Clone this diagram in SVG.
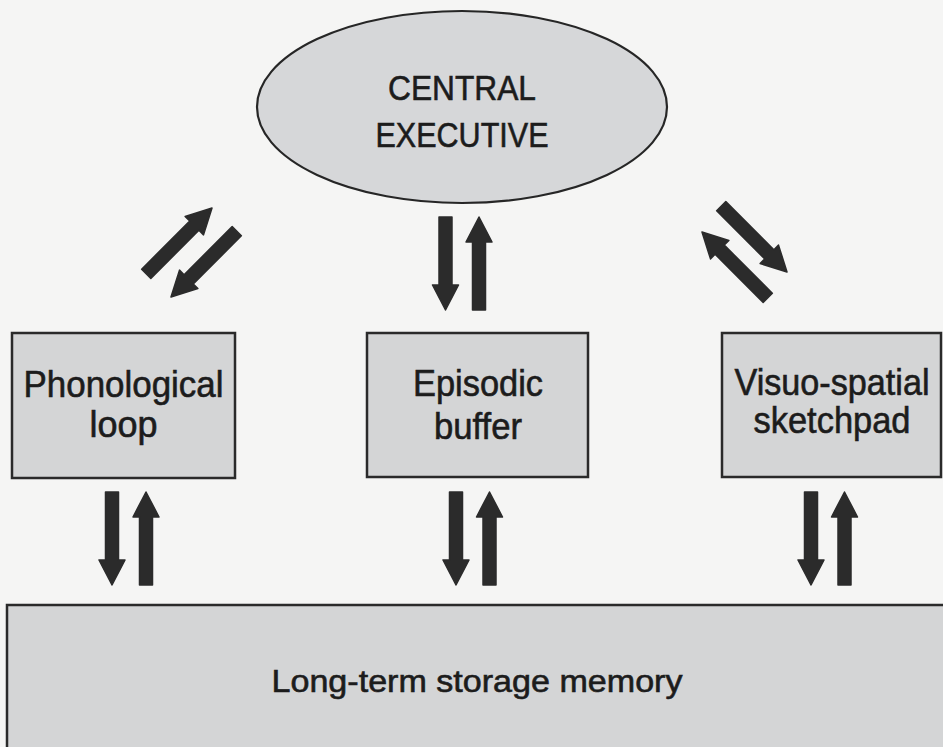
<svg xmlns="http://www.w3.org/2000/svg" xmlns:xlink="http://www.w3.org/1999/xlink" width="943" height="747" viewBox="0 0 943 747">
  <style>
    .bg { fill: #f5f5f4; }
    .box { fill: #d4d5d6; stroke: #2a2a2a; stroke-width: 2.5; }
    .oval { fill: #d6d7d9; stroke: #262626; stroke-width: 2.2; }
    .label { font-family: "Liberation Sans", Arial, sans-serif; fill: #1c1c1c; stroke: #1c1c1c; stroke-width: 0.6; text-anchor: middle; }
    .big { font-size: 36px; }
    .mid { font-size: 35px; }
    .low { font-size: 31px; }
    .arrow { fill: #2b2b2b; stroke: #2b2b2b; stroke-width: 1.5; stroke-linejoin: round; }
  </style>
  <defs>
    <!-- block arrow pointing up, tip at the origin -->
    <path id="arrowUp" d="M0,0 L13,25 L6.5,25 L6.5,93 L-6.5,93 L-6.5,25 L-13,25 Z"/>
  </defs>

  <rect class="bg" x="0" y="0" width="943" height="747"/>

  <g id="central-executive">
    <ellipse class="oval" cx="462" cy="107" rx="205" ry="96"/>
    <text class="label mid" x="462" y="100" textLength="148" lengthAdjust="spacingAndGlyphs">CENTRAL</text>
    <text class="label mid" x="462" y="147" textLength="173" lengthAdjust="spacingAndGlyphs">EXECUTIVE</text>
  </g>

  <g id="phonological-loop">
    <rect class="box" x="12" y="333" width="223" height="145"/>
    <text class="label big" x="123.5" y="397" textLength="200" lengthAdjust="spacingAndGlyphs">Phonological</text>
    <text class="label big" x="123.5" y="437">loop</text>
  </g>

  <g id="episodic-buffer">
    <rect class="box" x="367" y="333" width="221" height="144"/>
    <text class="label big" x="478" y="396" textLength="130" lengthAdjust="spacingAndGlyphs">Episodic</text>
    <text class="label big" x="478" y="439" textLength="88" lengthAdjust="spacingAndGlyphs">buffer</text>
  </g>

  <g id="visuo-spatial-sketchpad">
    <rect class="box" x="722" y="333" width="219" height="144"/>
    <text class="label big" x="832" y="395" textLength="195" lengthAdjust="spacingAndGlyphs">Visuo-spatial</text>
    <text class="label big" x="832" y="433" textLength="157" lengthAdjust="spacingAndGlyphs">sketchpad</text>
  </g>

  <g id="long-term-memory">
    <rect class="box" x="7" y="605" width="950" height="160"/>
    <text class="label low" x="477" y="692" textLength="411" lengthAdjust="spacingAndGlyphs">Long-term storage memory</text>
  </g>

  <g id="connectors">
    <!-- executive to phonological loop -->
    <use class="arrow" xlink:href="#arrowUp" transform="translate(212,208) rotate(45)"/>
    <use class="arrow" xlink:href="#arrowUp" transform="translate(171,297) rotate(225)"/>
    <!-- executive to episodic buffer -->
    <use class="arrow" xlink:href="#arrowUp" transform="translate(445.5,310) rotate(180)"/>
    <use class="arrow" xlink:href="#arrowUp" transform="translate(479,217)"/>
    <!-- executive to sketchpad -->
    <use class="arrow" xlink:href="#arrowUp" transform="translate(787,272) rotate(135)"/>
    <use class="arrow" xlink:href="#arrowUp" transform="translate(702,232) rotate(-45)"/>
    <!-- slave systems to long-term memory -->
    <use class="arrow" xlink:href="#arrowUp" transform="translate(112,585) rotate(180)"/>
    <use class="arrow" xlink:href="#arrowUp" transform="translate(146,492)"/>
    <use class="arrow" xlink:href="#arrowUp" transform="translate(456,585) rotate(180)"/>
    <use class="arrow" xlink:href="#arrowUp" transform="translate(489.5,492)"/>
    <use class="arrow" xlink:href="#arrowUp" transform="translate(811,585) rotate(180)"/>
    <use class="arrow" xlink:href="#arrowUp" transform="translate(844.5,492)"/>
  </g>
</svg>
